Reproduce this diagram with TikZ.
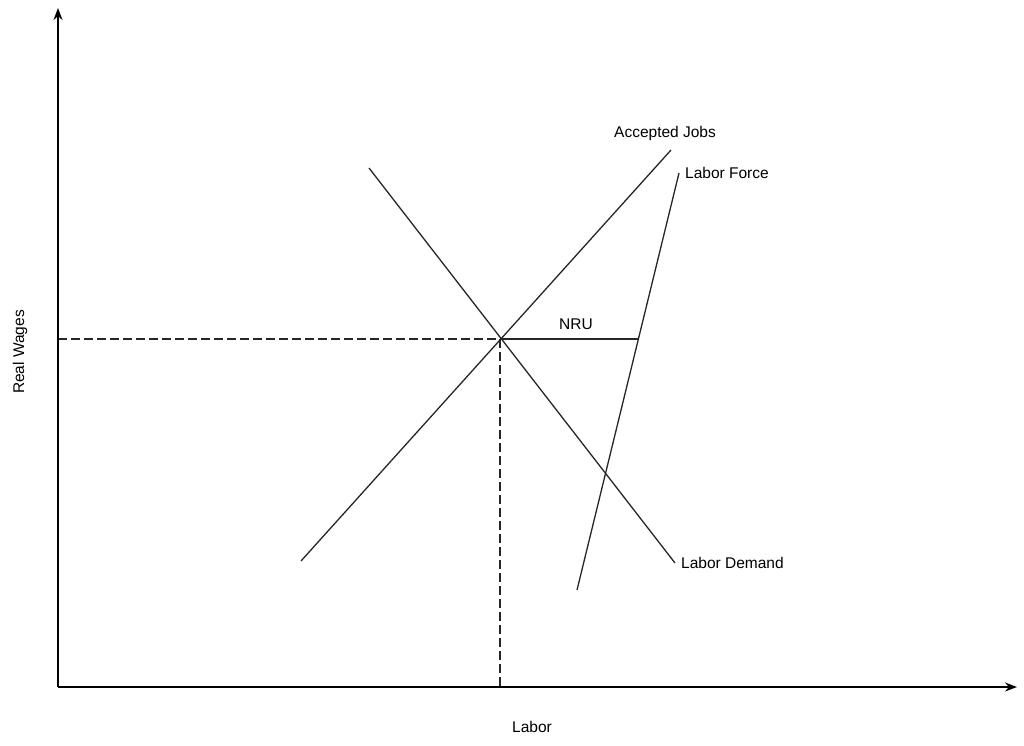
\documentclass[tikz,border=0pt]{standalone}
\usepackage{fontspec}
\setmainfont{Liberation Sans}
\usetikzlibrary{arrows.meta}
\begin{document}
\begin{tikzpicture}[x=1pt,y=-1pt,
  ln/.style={line width=1.3pt,black!85},
  dsh/.style={line width=1.3pt,black!85,dash pattern=on 9pt off 4pt},
  ax/.style={line width=1.8pt,black,-{Stealth[length=12pt,width=9pt]}},
  lbl/.style={font=\fontsize{15.5}{17}\selectfont,inner sep=0pt}]
\useasboundingbox (0,0) rectangle (1024,745);
\coordinate (O) at (58,687);
\coordinate (ytop) at (58,8);
\coordinate (xend) at (1017,687);
\coordinate (E) at (500,339);
\coordinate (Ewl) at (58,339);
\coordinate (Ex) at (500,687);
\coordinate (N) at (638,339);
\coordinate (aj1) at (301,561); \coordinate (aj2) at (671,150);
\coordinate (ld1) at (369,168); \coordinate (ld2) at (675,563);
\coordinate (lf1) at (577,590); \coordinate (lf2) at (679,173);
\draw[dsh] (Ewl) -- (E);
\draw[dsh] (E) -- (Ex);
\draw[ax] (O) -- (ytop);
\draw[ax] (O) -- (xend);
\draw[ln] (E) -- (N);
\draw[ln] (aj1) -- (aj2);
\draw[ln] (ld1) -- (ld2);
\draw[ln] (lf1) -- (lf2);
\node[lbl] (nru) at (576,324) {NRU};
\node[lbl,anchor=west] (ajl) at (614,133) {Accepted Jobs};
\node[lbl,anchor=west] (lfl) at (685,173) {Labor Force};
\node[lbl,anchor=west] (ldl) at (681,563) {Labor Demand};
\node[lbl,rotate=90] (rw) at (20,352) {Real Wages};
\node[lbl] (lb) at (532,727) {Labor};
\end{tikzpicture}
\end{document}
